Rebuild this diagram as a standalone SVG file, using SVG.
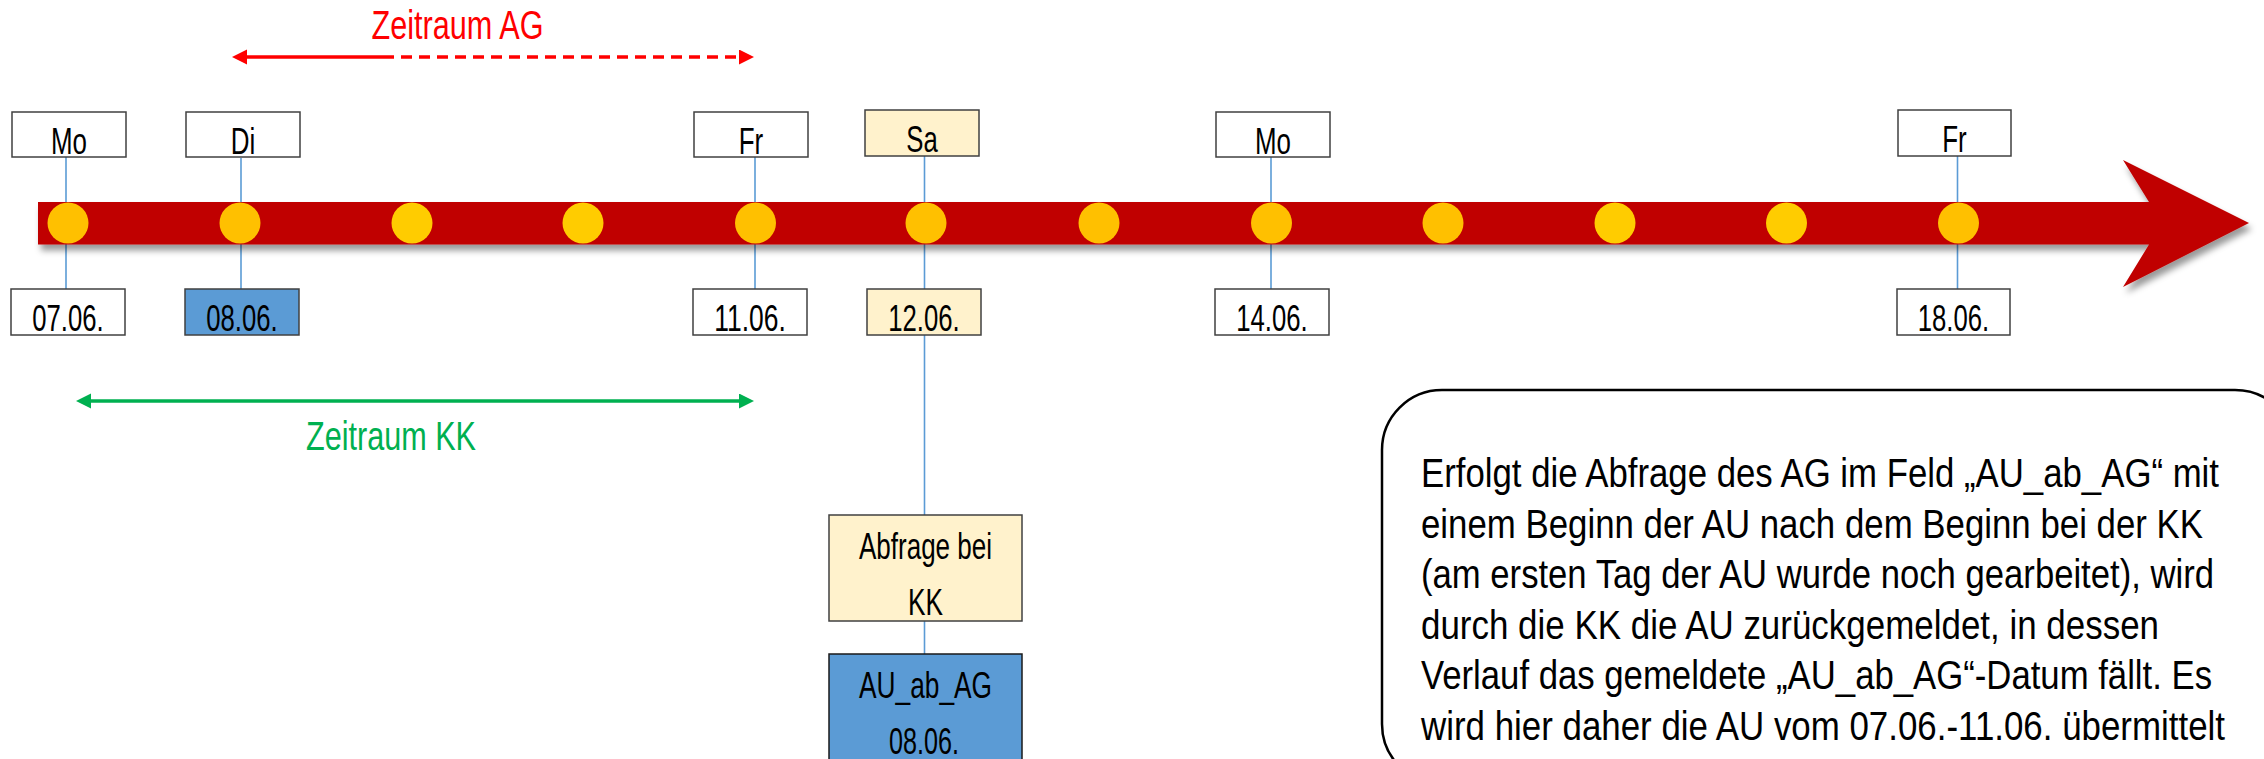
<svg xmlns="http://www.w3.org/2000/svg" width="2264" height="759" viewBox="0 0 2264 759">
<style>
.box{stroke:#404040;stroke-width:1.5}
.w{fill:#ffffff}
.y{fill:#FFF2CC}
.b{fill:#5B9BD5}
.lbl{font-family:"Liberation Sans Narrow","Arial Narrow","Liberation Sans",Arial,sans-serif;font-size:36px;fill:#000;text-anchor:middle}
.conn{stroke:#5B9BD5;stroke-width:1.6;fill:none}
.dotA{fill:#FFC000}
.dotB{fill:#FFCC00}
.note{font-family:"Liberation Sans",Arial,sans-serif;font-size:40px;fill:#000}
</style>
<defs>
<filter id="sh" x="-5%" y="-30%" width="110%" height="180%">
<feDropShadow dx="3" dy="6" stdDeviation="3" flood-color="#000" flood-opacity="0.4"/>
</filter>
<marker id="ar" markerUnits="userSpaceOnUse" markerWidth="16" markerHeight="16" refX="1" refY="7.5" orient="auto-start-reverse">
<path d="M0,0 L15,7.5 L0,15 Z" fill="#FF0000"/>
</marker>
<marker id="ag" markerUnits="userSpaceOnUse" markerWidth="16" markerHeight="16" refX="1" refY="7.5" orient="auto-start-reverse">
<path d="M0,0 L15,7.5 L0,15 Z" fill="#00B050"/>
</marker>
</defs>
<rect width="2264" height="759" fill="#ffffff"/>

<g id="connectors">
<line class="conn" x1="66" y1="157" x2="66" y2="289"/>
<line class="conn" x1="241" y1="158" x2="241" y2="289"/>
<line class="conn" x1="755" y1="157" x2="755" y2="289"/>
<line class="conn" x1="924.5" y1="156" x2="924.5" y2="289"/>
<line class="conn" x1="924.5" y1="335" x2="924.5" y2="515"/>
<line class="conn" x1="924.5" y1="621" x2="924.5" y2="654"/>
<line class="conn" x1="1271" y1="157" x2="1271" y2="289"/>
<line class="conn" x1="1957.5" y1="156" x2="1957.5" y2="289"/>
<line x1="246" y1="57" x2="383" y2="57" stroke="#FF0000" stroke-width="3.5" marker-start="url(#ar)"/>
<line x1="383" y1="57" x2="740" y2="57" stroke="#FF0000" stroke-width="3.5" stroke-dasharray="11 7" marker-end="url(#ar)"/>
<line x1="90" y1="401" x2="740" y2="401" stroke="#00B050" stroke-width="3.5" marker-start="url(#ag)" marker-end="url(#ag)"/>
</g>

<g id="timeline">
<path d="M38,202 L2149,202 L2123,160 L2249,223 L2123,287 L2149,244.5 L38,244.5 Z" fill="#C00000" filter="url(#sh)"/>
<circle class="dotA" cx="68" cy="223" r="20.5"/>
<circle class="dotA" cx="240" cy="223" r="20.5"/>
<circle class="dotB" cx="412" cy="223" r="20.5"/>
<circle class="dotB" cx="583" cy="223" r="20.5"/>
<circle class="dotA" cx="755.5" cy="223" r="20.5"/>
<circle class="dotA" cx="926" cy="223" r="20.5"/>
<circle class="dotA" cx="1099" cy="223" r="20.5"/>
<circle class="dotA" cx="1271.5" cy="223" r="20.5"/>
<circle class="dotA" cx="1443" cy="223" r="20.5"/>
<circle class="dotB" cx="1615" cy="223" r="20.5"/>
<circle class="dotB" cx="1786.5" cy="223" r="20.5"/>
<circle class="dotA" cx="1958.5" cy="223" r="20.5"/>
</g>

<g id="label-zeitraum-ag">
<text x="457.5" y="39" font-family="'Liberation Sans Narrow','Arial Narrow','Liberation Sans',Arial,sans-serif" font-size="40" fill="#FF0000" text-anchor="middle" textLength="172" lengthAdjust="spacingAndGlyphs">Zeitraum AG</text>
</g>
<g id="label-zeitraum-kk">
<text x="391" y="450" font-family="'Liberation Sans Narrow','Arial Narrow','Liberation Sans',Arial,sans-serif" font-size="40" fill="#00B050" text-anchor="middle" textLength="170" lengthAdjust="spacingAndGlyphs">Zeitraum KK</text>
</g>

<g id="day-mo1"><rect class="box w" x="12" y="112" width="114" height="45"/><text class="lbl" x="69" y="154" textLength="36" lengthAdjust="spacingAndGlyphs">Mo</text></g>
<g id="day-di"><rect class="box w" x="186" y="112" width="114" height="45"/><text class="lbl" x="243" y="154" textLength="24.5" lengthAdjust="spacingAndGlyphs">Di</text></g>
<g id="day-fr1"><rect class="box w" x="694" y="112" width="114" height="45"/><text class="lbl" x="751" y="154" textLength="24.5" lengthAdjust="spacingAndGlyphs">Fr</text></g>
<g id="day-sa"><rect class="box y" x="865" y="110" width="114" height="46"/><text class="lbl" x="922" y="152" textLength="31.5" lengthAdjust="spacingAndGlyphs">Sa</text></g>
<g id="day-mo2"><rect class="box w" x="1216" y="112" width="114" height="45"/><text class="lbl" x="1273" y="154" textLength="36" lengthAdjust="spacingAndGlyphs">Mo</text></g>
<g id="day-fr2"><rect class="box w" x="1898" y="110" width="113" height="46"/><text class="lbl" x="1954.5" y="152" textLength="24.5" lengthAdjust="spacingAndGlyphs">Fr</text></g>

<g id="date-0706"><rect class="box w" x="11" y="289" width="114" height="46"/><text class="lbl" x="68" y="331" textLength="71.5" lengthAdjust="spacingAndGlyphs">07.06.</text></g>
<g id="date-0806"><rect class="box b" x="185" y="289" width="114" height="46"/><text class="lbl" x="242" y="331" textLength="71.5" lengthAdjust="spacingAndGlyphs">08.06.</text></g>
<g id="date-1106"><rect class="box w" x="693" y="289" width="114" height="46"/><text class="lbl" x="750" y="331" textLength="71.5" lengthAdjust="spacingAndGlyphs">11.06.</text></g>
<g id="date-1206"><rect class="box y" x="867" y="289" width="114" height="46"/><text class="lbl" x="924" y="331" textLength="71.5" lengthAdjust="spacingAndGlyphs">12.06.</text></g>
<g id="date-1406"><rect class="box w" x="1215" y="289" width="114" height="46"/><text class="lbl" x="1272" y="331" textLength="71.5" lengthAdjust="spacingAndGlyphs">14.06.</text></g>
<g id="date-1806"><rect class="box w" x="1897" y="289" width="113" height="46"/><text class="lbl" x="1953.5" y="331" textLength="71.5" lengthAdjust="spacingAndGlyphs">18.06.</text></g>

<g id="abfrage-kk"><rect class="box y" x="829" y="515" width="193" height="106"/>
<text class="lbl" x="925.5" y="559" textLength="133" lengthAdjust="spacingAndGlyphs">Abfrage bei</text>
<text class="lbl" x="925.5" y="615" textLength="35" lengthAdjust="spacingAndGlyphs">KK</text></g>
<g id="au-ab-ag"><rect class="b" x="829" y="654" width="193" height="120" stroke="#1a1a1a" stroke-width="1.5"/>
<text class="lbl" x="925.5" y="698" textLength="133" lengthAdjust="spacingAndGlyphs">AU_ab_AG</text>
<text class="lbl" x="924" y="754" textLength="70" lengthAdjust="spacingAndGlyphs">08.06.</text></g>

<g id="note">
<rect x="1382" y="390" width="913" height="394" rx="60" ry="60" fill="#ffffff" stroke="#000" stroke-width="2.5"/>
<text class="note" x="1421" y="487" textLength="798" lengthAdjust="spacingAndGlyphs">Erfolgt die Abfrage des AG im Feld „AU_ab_AG“ mit</text>
<text class="note" x="1421" y="537.5" textLength="782" lengthAdjust="spacingAndGlyphs">einem Beginn der AU nach dem Beginn bei der KK</text>
<text class="note" x="1421" y="588" textLength="793" lengthAdjust="spacingAndGlyphs">(am ersten Tag der AU wurde noch gearbeitet), wird</text>
<text class="note" x="1421" y="638.5" textLength="738" lengthAdjust="spacingAndGlyphs">durch die KK die AU zurückgemeldet, in dessen</text>
<text class="note" x="1421" y="689" textLength="791" lengthAdjust="spacingAndGlyphs">Verlauf das gemeldete „AU_ab_AG“-Datum fällt. Es</text>
<text class="note" x="1421" y="739.5" textLength="804" lengthAdjust="spacingAndGlyphs">wird hier daher die AU vom 07.06.-11.06. übermittelt</text>
</g>
</svg>
